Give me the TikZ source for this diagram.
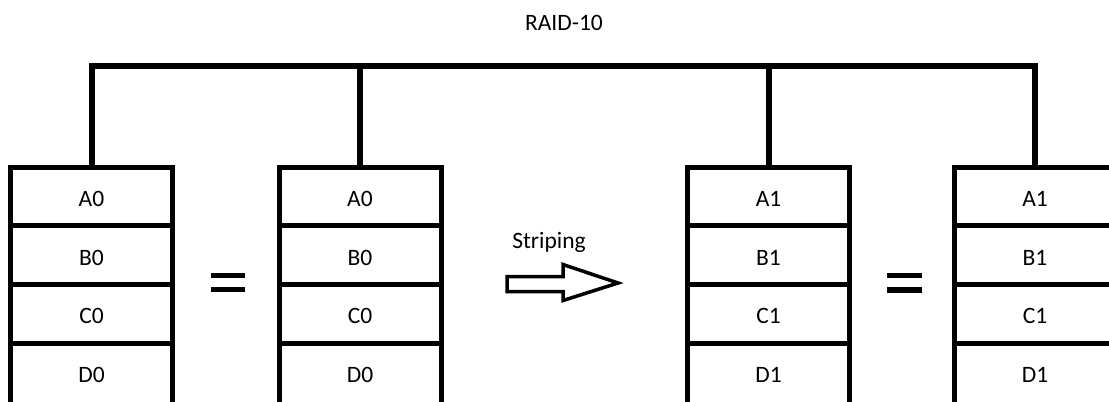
\documentclass[tikz,border=0pt]{standalone}
\usepackage{fontspec}
\setmainfont{Carlito}
\begin{document}
\begin{tikzpicture}[x=1bp,y=-1bp,
  lbl/.style={font=\fontsize{23.5bp}{27bp}\selectfont, text=black},
  cell/.style={lbl, draw=black, line width=5bp, minimum width=162bp,
    minimum height=58.7bp, inner sep=0pt, outer sep=0pt,
    text height=20bp, text depth=0pt, line join=miter},
  border/.style={draw=black, line width=5bp},
  wire/.style={draw=black, line width=6bp, line join=miter},
  eqbar/.style={draw=black, line width=5.5bp},
  blockarrow/.style={draw=black, line width=3.5bp, line join=miter}]
\useasboundingbox (0,0) rectangle (1109,401);
\clip (0,0) rectangle (1109,401);

% title and the bus that ties the four disks together
\node[lbl, anchor=base] (title) at (564,30.5) {RAID-10};
\coordinate (bus) at (0,66);

% four disks, each a column of stripe blocks; the last block runs off the page
\foreach \i/\x/\n in {1/91.5/0, 2/360/0, 3/768.5/1, 4/1035/1}{
  \node[cell] (a\i) at (\x,196.35) {A\n};
  \node[cell] (b\i) at (\x,255.05) {B\n};
  \node[cell] (c\i) at (\x,313.75) {C\n};
  \node[cell, draw=none] (d\i) at (\x,372.45) {D\n};
  \draw[border] (d\i.north west) -- ++(0,80);
  \draw[border] (d\i.north east) -- ++(0,80);
}

% bus connections
\draw[wire] (a1.north) -- (a1.north |- bus) -- (a4.north |- bus) -- (a4.north);
\draw[wire] (a2.north) -- (a2.north |- bus);
\draw[wire] (a3.north) -- (a3.north |- bus);

% mirror signs
\draw[eqbar] (211,275.3) -- (245,275.3);
\draw[eqbar] (211,289.7) -- (245,289.7);
\draw[eqbar] (887,275.5) -- (922,275.5);
\draw[eqbar] (887,290) -- (922,290);

% striping arrow
\node[lbl, anchor=base] (striping) at (549,248) {Striping};
\draw[blockarrow] (507,276.5) -- (563,276.5) -- (563,264.5) -- (618,283)
  -- (563,300.5) -- (563,291.5) -- (507,291.5) -- cycle;
\end{tikzpicture}
\end{document}
